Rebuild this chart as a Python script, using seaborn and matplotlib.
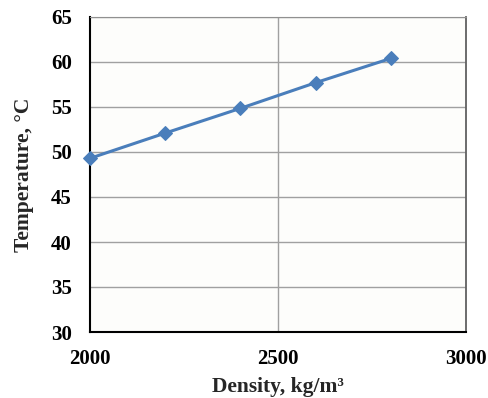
import matplotlib
matplotlib.use("Agg")
import matplotlib.pyplot as plt
import seaborn as sns
import pandas as pd

density = [2000, 2200, 2400, 2600, 2800]
temperature = [49.3, 52.1, 54.85, 57.7, 60.4]
x_ticks = [2000, 2500, 3000]
y_ticks = [30, 35, 40, 45, 50, 55, 60, 65]

sns.set_style("white")
plt.rcParams['font.family'] = ['Liberation Serif', 'DejaVu Serif']
plt.rcParams['font.weight'] = 'bold'

df = pd.DataFrame({"Density": density, "Temperature": temperature})

fig = plt.figure(figsize=(4.89, 3.98), dpi=100)
ax = fig.add_axes([90/489, 1 - 332/398, (466-90)/489, (332-17)/398])

ax.set_facecolor("#fdfdfb")
for y in y_ticks:
    ax.axhline(y, color="#a0a0a0", lw=1.0, zorder=0)
ax.axvline(2500, color="#a0a0a0", lw=1.0, zorder=0)

sns.lineplot(data=df, x="Density", y="Temperature", ax=ax, color="#4a7ebb",
             lw=2.2, marker="D", markersize=7, markeredgecolor="#4a7ebb",
             zorder=3, clip_on=False)

ax.set_xlim(2000, 3000)
ax.set_ylim(30, 65)
ax.set_xticks(x_ticks)
ax.set_yticks(y_ticks)
ax.tick_params(axis='both', labelsize=15, length=5, width=1, direction='out',
               colors='black')
ax.tick_params(axis='x', pad=7)
ax.tick_params(axis='y', pad=8)
for lab in ax.get_xticklabels() + ax.get_yticklabels():
    lab.set_fontweight('bold')

ax.spines['left'].set_color('black')
ax.spines['bottom'].set_color('black')
ax.spines['left'].set_linewidth(1.5)
ax.spines['bottom'].set_linewidth(1.5)
ax.spines['top'].set_color('#909090')
ax.spines['right'].set_color('#606060')
ax.spines['right'].set_linewidth(1.3)

ax.set_xlabel("Density, kg/m³", fontsize=15.5, fontweight='bold', labelpad=6)
ax.set_ylabel("Temperature, °C", fontsize=15.5, fontweight='bold', labelpad=12)

fig.savefig("out.png", dpi=100)
